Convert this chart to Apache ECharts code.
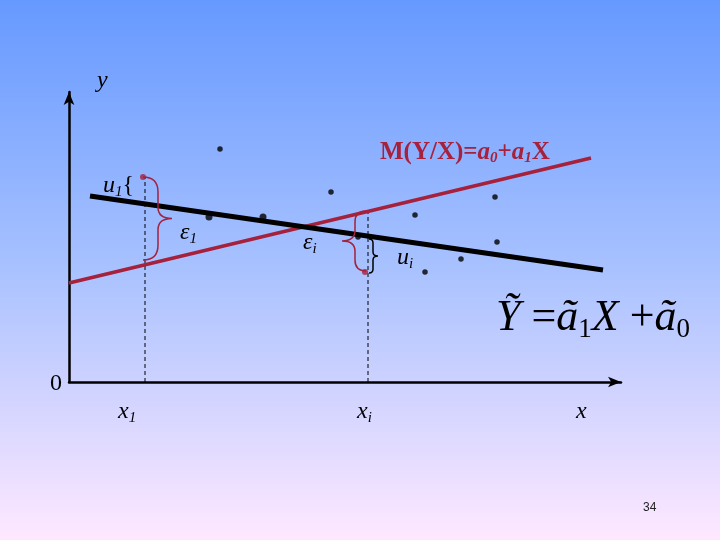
<!DOCTYPE html>
<html><head><meta charset="utf-8">
<script src="https://cdn.jsdelivr.net/npm/echarts@6/dist/echarts.min.js"></script>
<style>html,body{margin:0;padding:0;}#c{width:720px;height:540px;}</style>
</head><body><div id="c"></div>
<script>
// Data coordinates: offsets from the origin (x to the right, y upward)
const blackPointsLarge = [[140,165],[194,165]];
const blackPointsSmall = [[151,233],[262,190],[289,145],[346,167],[426,185],[428,140],[392,123],[356,110]];
const redPoints = [[74,205],[296,110]];
const sampleLine = [[21,186],[534,112]];
const trueLine = [[0,99],[522,224]];
const guide1 = [[76,0],[76,205]];
const guideI = [[299,0],[299,172]];
// braces: [hookX, spineX, tipX, yTop, yBottom]
const braces = [[74,89,103,205,122],[297,286,273,171,111],[300,304,309,143,109]];
const labelText = [
  '{v|y}', '{r|0}', '{v|x}{vs|1}', '{v|x}{vs|i}', '{v|x}',
  '{v|u}{vs|1}{r|{}', '{v|ε}{vs|1}', '{v|ε}{vs|i}', '{v|u}{vs|i}',
  '{m|M(Y/X)=}{mi|a}{ms|0}{m|+}{mi|a}{ms|1}{m|X}',
  '{F|Ỹ }{Fr|=}{F|ã}{Fs|1}{F|X }{Fr|+}{F|ã}{Fs|0}',
  '{p|34}'
];
const labelPos = [[28,313],[-19,10],[49,-18],[288,-18],[507,-18],[34,208],[111,161],[234,151],[328,136],[311,242],[427,86],[574,-120]];

const RED = '#A6213B';
const serif = 'Liberation Serif, Times New Roman, serif';
const rich = {
  v: {fontFamily: serif, fontStyle: 'italic', fontSize: 24, lineHeight: 24, verticalAlign: 'top', fill: '#000'},
  vs: {fontFamily: serif, fontStyle: 'italic', fontSize: 15, lineHeight: 26, verticalAlign: 'bottom', fill: '#000'},
  r: {fontFamily: serif, fontSize: 24, lineHeight: 24, verticalAlign: 'top', fill: '#000'},
  m: {fontFamily: serif, fontWeight: 'bold', fontSize: 25, lineHeight: 25, verticalAlign: 'top', fill: RED},
  mi: {fontFamily: serif, fontWeight: 'bold', fontStyle: 'italic', fontSize: 25, lineHeight: 25, verticalAlign: 'top', fill: RED},
  ms: {fontFamily: serif, fontWeight: 'bold', fontStyle: 'italic', fontSize: 15, lineHeight: 26, verticalAlign: 'bottom', fill: RED},
  F: {fontFamily: serif, fontStyle: 'italic', fontSize: 44, lineHeight: 44, verticalAlign: 'top', fill: '#000'},
  Fr: {fontFamily: serif, fontSize: 44, lineHeight: 44, verticalAlign: 'top', fill: '#000'},
  Fs: {fontFamily: serif, fontSize: 27, lineHeight: 47, verticalAlign: 'bottom', fill: '#000'},
  p: {fontFamily: 'Liberation Sans, Arial, sans-serif', fontSize: 12, lineHeight: 12, verticalAlign: 'top', fill: '#222'}
};
const braceColors = [RED, RED, '#000'];

const chart = echarts.init(document.getElementById('c'), null, {renderer: 'canvas'});
const axisCommon = {
  type: 'value',
  axisLine: {show: true, onZero: false, symbol: ['none', 'arrow'], symbolSize: [8, 13], lineStyle: {color: '#000', width: 2.5}},
  axisTick: {show: false}, axisLabel: {show: false}, splitLine: {show: false}
};
chart.setOption({
  animation: false,
  backgroundColor: {type: 'linear', x: 0, y: 0, x2: 0, y2: 1, colorStops: [
    {offset: 0, color: '#6699FF'}, {offset: 0.5, color: '#A9C2FF'}, {offset: 1, color: '#FFE8FF'}]},
  grid: {left: 69, top: 92, right: 99, bottom: 158},
  xAxis: Object.assign({min: 0, max: 552}, axisCommon),
  yAxis: Object.assign({min: 0, max: 290}, axisCommon),
  series: [
    {type: 'line', data: guide1, symbol: 'none', lineStyle: {color: '#000', width: 1, type: [4, 3]}, z: 1},
    {type: 'line', data: guideI, symbol: 'none', lineStyle: {color: '#000', width: 1, type: [4, 3]}, z: 1},
    {type: 'line', data: trueLine, symbol: 'none', lineStyle: {color: RED, width: 3.5}, z: 2},
    {type: 'line', data: sampleLine, symbol: 'none', lineStyle: {color: '#000', width: 5}, z: 3},
    {type: 'scatter', data: blackPointsLarge, symbolSize: 7, itemStyle: {color: '#000'}, z: 4},
    {type: 'scatter', data: blackPointsSmall, symbolSize: 5.5, itemStyle: {color: '#000'}, z: 4},
    {type: 'scatter', data: redPoints, symbolSize: 6, itemStyle: {color: RED}, z: 4},
    {
      type: 'custom', data: braces, encode: {x: [0, 1, 2], y: [3, 4]}, z: 5,
      renderItem: function (params, api) {
        const hx = api.coord([api.value(0), api.value(3)])[0];
        const sx = api.coord([api.value(1), api.value(3)])[0];
        const tx = api.coord([api.value(2), api.value(3)])[0];
        const yt = api.coord([api.value(1), api.value(3)])[1];
        const yb = api.coord([api.value(1), api.value(4)])[1];
        const ym = (yt + yb) / 2;
        const r = Math.min(Math.abs(hx - sx), (yb - yt) / 4);
        const r2 = Math.min(Math.abs(tx - sx), (yb - yt) / 4) * 0.8;
        const d = 'M' + hx + ' ' + yt + ' Q' + sx + ' ' + yt + ' ' + sx + ' ' + (yt + r) +
          ' L' + sx + ' ' + (ym - r2) + ' Q' + sx + ' ' + ym + ' ' + tx + ' ' + ym +
          ' Q' + sx + ' ' + ym + ' ' + sx + ' ' + (ym + r2) +
          ' L' + sx + ' ' + (yb - r) + ' Q' + sx + ' ' + yb + ' ' + hx + ' ' + yb;
        return {type: 'path', shape: {pathData: d}, style: {stroke: braceColors[params.dataIndex], fill: null, lineWidth: 1.5}};
      }
    },
    {
      type: 'custom', data: labelPos, encode: {x: 0, y: 1}, z: 6,
      renderItem: function (params, api) {
        const p = api.coord([api.value(0), api.value(1)]);
        return {type: 'text', x: p[0], y: p[1], style: {text: labelText[params.dataIndex], rich: rich, align: 'left', verticalAlign: 'top'}};
      }
    }
  ]
});
</script></body></html>
